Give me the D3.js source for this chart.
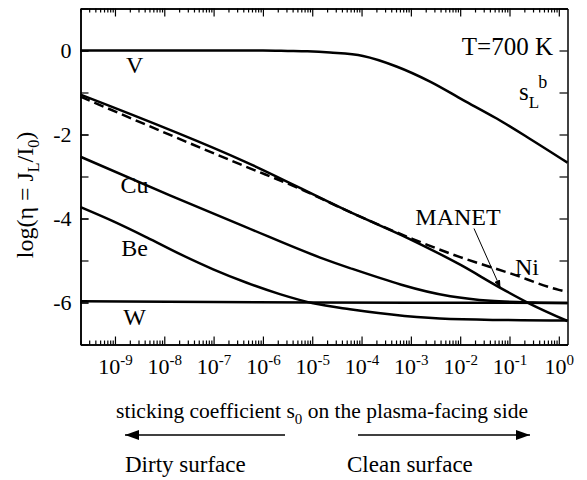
<!DOCTYPE html>
<html>
<head>
<meta charset="utf-8">
<script src="https://cdn.jsdelivr.net/npm/d3@7"></script>
<style>
  body { margin: 0; background: #fff; }
</style>
</head>
<body>
<div id="wrapper"></div>
<script>
// [s0, log(eta)]
const vData = [[2e-10, 0], [1e-6, 0], [3.2e-6, -0.01], [8e-6, -0.02], [2.3e-5, -0.05], [1.07e-4, -0.13], [5.1e-4, -0.38], [2.45e-3, -0.74], [1.15e-2, -1.18], [5.5e-2, -1.62], [0.257, -2.1], [1.5, -2.67]];
const niData = [[2e-10, -1.1], [4.4e-7, -2.76], [5.6e-6, -3.29], [5.9e-5, -3.85], [1.1e-3, -4.49], [1e-2, -4.92], [1e-1, -5.3], [1, -5.7], [1.5, -5.75]];
const manetData = [[2e-10, -1.05], [4.4e-7, -2.65], [5.9e-5, -3.85], [9.5e-4, -4.49], [1e-2, -5.1], [6.5e-2, -5.65], [0.26, -6.03], [1.5, -6.44]];
const cuData = [[2e-10, -2.53], [1.3e-8, -3.45], [4.4e-7, -4.2], [1.45e-5, -4.93], [5.8e-5, -5.18], [6.3e-3, -5.85], [4.1e-2, -5.96], [0.3, -6.0], [1.5, -6.01]];
const beData = [[2e-10, -3.73], [9.3e-10, -4.07], [4.4e-9, -4.45], [2.1e-8, -4.85], [9.8e-8, -5.21], [4.7e-7, -5.53], [2.2e-6, -5.8], [1.05e-5, -6.02], [5.8e-5, -6.16], [6.3e-3, -6.39], [1.5, -6.43]];
const wData = [[2e-10, -5.97], [1e-7, -5.99], [1e-5, -6.0], [1.5, -6.01]];

const xMajor = [1e-9, 1e-8, 1e-7, 1e-6, 1e-5, 1e-4, 1e-3, 1e-2, 1e-1, 1];
const xLabels = ["-9", "-8", "-7", "-6", "-5", "-4", "-3", "-2", "-1", "0"];
const yMajor = [-6, -4, -2, 0];
const yAll = [-7, -6, -5, -4, -3, -2, -1, 0, 1];

const curveLabels = [
  { text: "V", s: 2.5e-9, v: 73 },
  { text: "Cu", s: 2.5e-9, v: 193 },
  { text: "Be", s: 2.5e-9, v: 256 },
  { text: "W", s: 2.5e-9, v: 325 }
];

let dimensions = {
  width: 587,
  height: 480,
  margin: { top: 8.5, left: 80.5, bottom: 135.5, right: 19.5 }
};
dimensions.boundedWidth = dimensions.width - dimensions.margin.left - dimensions.margin.right;
dimensions.boundedHeight = dimensions.height - dimensions.margin.top - dimensions.margin.bottom;

const svg = d3.select("#wrapper").append("svg")
  .attr("width", dimensions.width)
  .attr("height", dimensions.height);

const defs = svg.append("defs");
defs.append("marker").attr("id", "bigHead")
  .attr("viewBox", "0 0 14 10").attr("refX", 14).attr("refY", 5)
  .attr("markerWidth", 14).attr("markerHeight", 10).attr("markerUnits", "userSpaceOnUse")
  .attr("orient", "auto")
  .append("path").attr("d", "M0,0L14,5L0,10Z").attr("fill", "#000");
defs.append("marker").attr("id", "smallHead")
  .attr("viewBox", "0 0 8 6").attr("refX", 8).attr("refY", 3)
  .attr("markerWidth", 8).attr("markerHeight", 6).attr("markerUnits", "userSpaceOnUse")
  .attr("orient", "auto")
  .append("path").attr("d", "M0,0L8,3L0,6Z").attr("fill", "#000");

const g = svg.append("g")
  .attr("transform", `translate(${dimensions.margin.left},${dimensions.margin.top})`);

const xScale = d3.scaleLog()
  .domain([2e-10, 1.5])
  .range([0, dimensions.boundedWidth]);
const yScale = d3.scaleLinear()
  .domain([-7, 1])
  .range([dimensions.boundedHeight, 0]);

// minor x ticks 2..9 per decade
const xMinor = [];
for (let e = -10; e <= 0; e++) {
  for (let m = 2; m <= 9; m++) {
    const v = m * Math.pow(10, e);
    if (v >= 2e-10 && v <= 1.5) xMinor.push(v);
  }
}

const axisStyle = sel => {
  sel.selectAll("path").attr("stroke-width", 1.5);
  sel.selectAll("line").attr("stroke-width", 1.2);
};

// bottom
g.append("g").attr("transform", `translate(0,${dimensions.boundedHeight})`)
  .call(d3.axisBottom(xScale).tickValues(xMinor).tickSize(-4).tickSizeOuter(0).tickFormat(""))
  .call(axisStyle);
const xAxis = g.append("g").attr("transform", `translate(0,${dimensions.boundedHeight})`)
  .call(d3.axisBottom(xScale).tickValues(xMajor).tickSize(-8).tickSizeOuter(0).tickFormat(""))
  .call(axisStyle);
xAxis.selectAll(".tick").each(function (d, i) {
  const t = d3.select(this).append("text")
    .attr("y", 29).attr("text-anchor", "middle")
    .attr("font-size", 22).attr("fill", "#000");
  t.append("tspan").text("10");
  t.append("tspan").attr("dy", -9).attr("font-size", 15).text(xLabels[i]);
});
// top
g.append("g")
  .call(d3.axisTop(xScale).tickValues(xMinor).tickSize(-4).tickSizeOuter(0).tickFormat(""))
  .call(axisStyle);
g.append("g")
  .call(d3.axisTop(xScale).tickValues(xMajor).tickSize(-8).tickSizeOuter(0).tickFormat(""))
  .call(axisStyle);
// left
g.append("g")
  .call(d3.axisLeft(yScale).tickValues(yAll).tickSize(-8).tickSizeOuter(0).tickFormat(""))
  .call(axisStyle);
g.append("g")
  .call(d3.axisLeft(yScale).tickValues(yMajor).tickSize(-8).tickSizeOuter(0).tickPadding(9).tickFormat(d => d === 0 ? "0" : "-" + Math.abs(d)))
  .call(axisStyle)
  .selectAll("text").attr("font-size", 22);
// right
g.append("g").attr("transform", `translate(${dimensions.boundedWidth},0)`)
  .call(d3.axisRight(yScale).tickValues(yAll).tickSize(-8).tickSizeOuter(0).tickFormat(""))
  .call(axisStyle);

g.selectAll(".domain").attr("stroke", "#000");

// curves
const line = d3.line()
  .x(d => xScale(d[0]))
  .y(d => yScale(d[1]))
  .curve(d3.curveMonotoneX);

const series = [
  { data: wData, dash: null },
  { data: beData, dash: null },
  { data: cuData, dash: null },
  { data: niData, dash: "10,5" },
  { data: manetData, dash: null },
  { data: vData, dash: null }
];
g.append("g").selectAll("path")
  .data(series)
  .enter()
  .append("path")
  .attr("d", d => line(d.data))
  .attr("fill", "none")
  .attr("stroke", "#000")
  .attr("stroke-width", 2.5)
  .attr("stroke-dasharray", d => d.dash);

// curve labels (absolute page coordinates)
const labels = svg.append("g");
labels.selectAll("text.curve")
  .data(curveLabels)
  .enter()
  .append("text")
  .attr("x", d => dimensions.margin.left + xScale(d.s))
  .attr("y", d => d.v)
  .attr("text-anchor", "middle")
  .attr("font-size", 24)
  .text(d => d.text);

labels.append("text").attr("x", 553).attr("y", 55).attr("text-anchor", "end")
  .attr("font-size", 25).text("T=700 K");

const sl = labels.append("text").attr("x", 519).attr("y", 100).attr("font-size", 25);
sl.append("tspan").text("s");
sl.append("tspan").attr("dy", 8).attr("font-size", 17).text("L");
sl.append("tspan").attr("dx", -1).attr("dy", -20).attr("font-size", 18).text("b");

labels.append("text").attr("x", 458).attr("y", 225).attr("text-anchor", "middle")
  .attr("font-size", 24).text("MANET");
labels.append("text").attr("x", 515).attr("y", 275)
  .attr("font-size", 24).text("Ni");
labels.append("line")
  .attr("x1", 474).attr("y1", 228.5).attr("x2", 500.5).attr("y2", 288)
  .attr("stroke", "#000").attr("stroke-width", 1)
  .attr("marker-end", "url(#smallHead)");

// y axis title
const yt = svg.append("text")
  .attr("transform", "translate(33,195) rotate(-90)")
  .attr("text-anchor", "middle")
  .attr("font-size", 24);
yt.append("tspan").text("log(η = J");
yt.append("tspan").attr("dy", 6).attr("font-size", 16).text("L");
yt.append("tspan").attr("dy", -6).text("/I");
yt.append("tspan").attr("dy", 6).attr("font-size", 16).text("0");
yt.append("tspan").attr("dy", -6).text(")");

// x axis title
const xt = svg.append("text")
  .attr("x", 322).attr("y", 418)
  .attr("text-anchor", "middle")
  .attr("font-size", 21.5);
xt.append("tspan").text("sticking coefficient s");
xt.append("tspan").attr("dy", 6).attr("font-size", 15).text("0");
xt.append("tspan").attr("dy", -6).text(" on the plasma-facing side");

// direction arrows
svg.append("line").attr("x1", 285).attr("y1", 435).attr("x2", 125).attr("y2", 435)
  .attr("stroke", "#000").attr("stroke-width", 1.5).attr("marker-end", "url(#bigHead)");
svg.append("line").attr("x1", 358).attr("y1", 435).attr("x2", 530).attr("y2", 435)
  .attr("stroke", "#000").attr("stroke-width", 1.5).attr("marker-end", "url(#bigHead)");
svg.append("text").attr("x", 125).attr("y", 472).attr("font-size", 23).text("Dirty surface");
svg.append("text").attr("x", 347).attr("y", 472).attr("font-size", 23).text("Clean surface");

// serif font on every text
svg.selectAll("text").style("font-family", "Liberation Serif").style("fill", "#000");
</script>
</body>
</html>
